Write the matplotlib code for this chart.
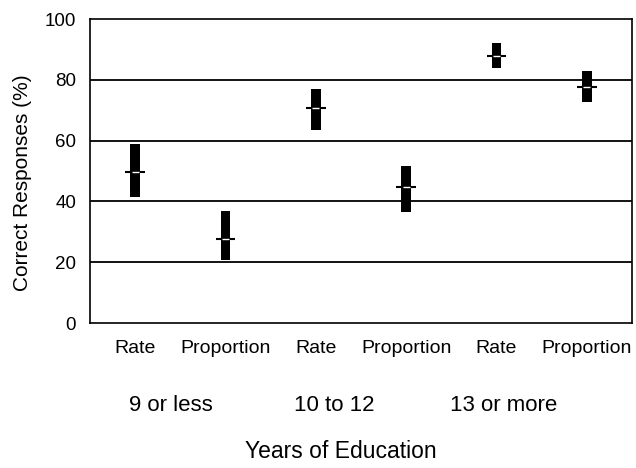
import matplotlib
matplotlib.use("Agg")
import matplotlib.pyplot as plt

plt.rcParams['font.family'] = ['Liberation Sans', 'DejaVu Sans']

categories = ["Rate", "Proportion", "Rate", "Proportion", "Rate", "Proportion"]
groups = ["9 or less", "10 to 12", "13 or more"]
group_pos = [1.40, 3.20, 5.08]
lower = [41.5, 20.7, 63.5, 36.6, 83.8, 72.6]
upper = [58.9, 36.8, 76.9, 51.7, 92.2, 82.9]
means = [49.8, 27.7, 70.6, 44.6, 87.9, 77.6]
yticks = [0, 20, 40, 60, 80, 100]

fig = plt.figure(figsize=(6.36, 4.68), dpi=100)
ax = fig.add_axes([90/636, (468-323)/468, (632-90)/636, (323-19)/468])

x = list(range(1, len(categories) + 1))
for g in [20, 40, 60, 80]:
    ax.axhline(g, color='black', lw=1.3, zorder=1)

heights = [u - l for u, l in zip(upper, lower)]
ax.bar(x, heights, bottom=lower, width=0.11, color='black', zorder=2)
ax.hlines(means, [xi - 0.11 for xi in x], [xi + 0.11 for xi in x], color='black', lw=1.5, zorder=3)
ax.hlines(means, [xi - 0.04 for xi in x], [xi + 0.04 for xi in x], color='white', lw=1.0, zorder=4)

ax.set_xlim(0.5, 6.5)
ax.set_ylim(0, 100)
ax.set_yticks(yticks)
ax.set_yticklabels([str(t) for t in yticks], fontsize=13.5)
ax.set_xticks(x)
ax.set_xticklabels(categories, fontsize=14)
ax.tick_params(axis='both', length=0, pad=10)
ax.tick_params(axis='x', pad=12)
for s in ax.spines.values():
    s.set_linewidth(1.2)

for gp, gname in zip(group_pos, groups):
    ax.text(gp, -27, gname, ha='center', va='center', fontsize=16,
            transform=ax.transData, clip_on=False)

ax.set_ylabel("Correct Responses (%)", fontsize=15)
ax.yaxis.set_label_coords((32 - 90) / 542, (323 - 183) / 304)
fig.text(341 / 636, 1 - 452 / 468, "Years of Education", ha='center', va='center', fontsize=16.5)

fig.savefig("out.png", dpi=100)
